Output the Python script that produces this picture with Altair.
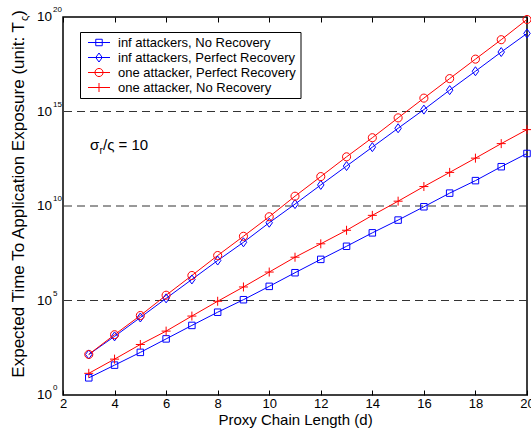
import altair as alt
import pandas as pd

# ---------------- data ----------------
d_values = [3, 4, 5, 6, 7, 8, 9, 10, 11, 12, 13, 14, 15, 16, 17, 18, 19, 20]

inf_no_recovery = [8.1, 38, 1.8e2, 9.3e2, 4.8e3, 2.4e4, 1.1e5, 5.6e5, 2.95e6,
                   1.5e7, 7.4e7, 3.8e8, 1.8e9, 9.1e9, 4.8e10, 2.2e11, 1.2e12, 6.0e12]
inf_perfect_recovery = [1.4e2, 1.26e3, 1.26e4, 1.3e5, 1.3e6, 1.3e7, 1.2e8, 1.3e9, 1.26e10,
                        1.3e11, 1.3e12, 1.3e13, 1.3e14, 1.26e15, 1.35e16, 1.35e17, 1.4e18, 1.35e19]
one_perfect_recovery = [1.4e2, 1.55e3, 1.6e4, 1.9e5, 2.1e6, 2.4e7, 2.5e8, 2.7e9, 3.3e10,
                        3.6e11, 4.0e12, 4.1e13, 4.6e14, 5.1e15, 5.5e16, 5.9e17, 6.3e18, 7.4e19]
one_no_recovery = [14, 79, 4.7e2, 2.4e3, 1.5e4, 9.1e4, 5.2e5, 3.2e6, 1.95e7,
                   1.0e8, 5.2e8, 3.2e9, 1.8e10, 1.07e11, 6.0e11, 3.4e12, 2.0e13, 1.1e14]

series_names = ["inf attackers, No Recovery", "inf attackers, Perfect Recovery",
                "one attacker, Perfect Recovery", "one attacker, No Recovery"]
series_colors = ["#0000ff", "#0000ff", "#ff0000", "#ff0000"]

x_ticks = [2, 4, 6, 8, 10, 12, 14, 16, 18, 20]
y_tick_exponents = [0, 5, 10, 15, 20]
y_grid_values = [1e5, 1e10, 1e15]

x_title = "Proxy Chain Length (d)"
y_title_main = "Expected Time To Application Exposure (unit: T"
y_title_sub = "\u03c2"
y_title_end = ")"

# ---------------- tables ----------------
rows = []
for name, vals in zip(series_names,
                      [inf_no_recovery, inf_perfect_recovery, one_perfect_recovery, one_no_recovery]):
    for d, v in zip(d_values, vals):
        rows.append({"d": d, "value": v, "series": name})
df = pd.DataFrame(rows)

legend_df = pd.DataFrame({"series": series_names, "row": list(range(len(series_names)))})
ylab_df = pd.DataFrame({"v": [10.0 ** e for e in y_tick_exponents],
                        "e": [str(e) for e in y_tick_exponents]})
grid_df = pd.DataFrame({"g": y_grid_values})
one = pd.DataFrame({"k": [0]})

FONT = "Liberation Sans"
SQUARE = "M-0.72,-0.72H0.72V0.72H-0.72Z"
DIAMOND = "M0,-1L0.72,0L0,1L-0.72,0Z"
CIRCLE = "M0.9,0A0.9,0.9,0,1,1,-0.9,0A0.9,0.9,0,1,1,0.9,0Z"
PLUS = "M-1,0H1M0,-1V1"

color_scale = alt.Scale(domain=series_names, range=series_colors)
shape_scale = alt.Scale(domain=series_names, range=[SQUARE, DIAMOND, CIRCLE, PLUS])
x_scale = alt.Scale(domain=[2, 20], nice=False, zero=False)
y_scale = alt.Scale(type="log", domain=[1, 1e20], nice=False)

color_enc = alt.Color("series:N", scale=color_scale, legend=None)
shape_enc = alt.Shape("series:N", scale=shape_scale, legend=None)

# ---------------- grid ----------------
grid = alt.Chart(grid_df).mark_rule(strokeDash=[8, 5], color="#333333", strokeWidth=1).encode(
    y=alt.Y("g:Q", scale=y_scale, axis=None))

# ---------------- data layers ----------------
lines = alt.Chart(df).mark_line(strokeWidth=1).encode(
    x=alt.X("d:Q", scale=x_scale,
            axis=alt.Axis(orient="bottom", values=x_ticks, offset=-5, tickSize=5,
                          domain=False, grid=False, labelPadding=2, labelFlush=False,
                          labelOverlap=False, labelFont=FONT, labelFontSize=13,
                          labelColor="black", tickColor="black", tickWidth=1,
                          format="d", title=x_title, titleFont=FONT, titleFontSize=15,
                          titleFontWeight="normal", titleColor="black", titlePadding=2)),
    y=alt.Y("value:Q", scale=y_scale, axis=None),
    color=color_enc,
    detail="series:N",
)

points = alt.Chart(df).mark_point(filled=False, size=81, strokeWidth=1, opacity=1).encode(
    x=alt.X("d:Q", scale=x_scale,
            axis=alt.Axis(orient="top", values=x_ticks, offset=-5, tickSize=5,
                          labels=False, domain=False, grid=False, tickColor="black",
                          tickWidth=1, title=None)),
    y=alt.Y("value:Q", scale=y_scale, axis=None),
    color=color_enc,
    shape=shape_enc,
)

# ---------------- y tick labels (10 with superscript) ----------------
ylab_base = alt.Chart(ylab_df).mark_text(align="right", baseline="middle", font=FONT,
                                         fontSize=13.5, color="black").encode(
    x=alt.value(-11),
    y=alt.Y("v:Q", scale=y_scale, axis=None),
    text=alt.value("10"),
)
ylab_exp = alt.Chart(ylab_df).mark_text(align="left", baseline="middle", font=FONT,
                                        fontSize=8, color="black", dy=-7).encode(
    x=alt.value(-10),
    y=alt.Y("v:Q", scale=y_scale, axis=None),
    text="e:N",
)

# ---------------- y axis title with subscript ----------------
ytitle_main = alt.Chart(one).mark_text(angle=270, align="right", baseline="alphabetic",
                                       font=FONT, fontSize=17, color="black").encode(
    x=alt.value(-39), y=alt.value(5), text=alt.value(y_title_main))
ytitle_sub = alt.Chart(one).mark_text(angle=270, align="right", baseline="alphabetic",
                                      font=FONT, fontSize=11, color="black", dy=4).encode(
    x=alt.value(-39), y=alt.value(-1.3), text=alt.value(y_title_sub))
ytitle_end = alt.Chart(one).mark_text(angle=270, align="right", baseline="alphabetic",
                                      font=FONT, fontSize=17, color="black").encode(
    x=alt.value(-39), y=alt.value(-7), text=alt.value(y_title_end))

# ---------------- annotation sigma_r / varsigma = 10 ----------------
ann1 = alt.Chart(one).mark_text(align="left", baseline="middle", font=FONT, fontSize=15,
                                color="black").encode(
    x=alt.value(27), y=alt.value(128), text=alt.value("\u03c3"))
ann2 = alt.Chart(one).mark_text(align="left", baseline="middle", font=FONT, fontSize=10,
                                color="black").encode(
    x=alt.value(36.5), y=alt.value(134), text=alt.value("r"))
ann3 = alt.Chart(one).mark_text(align="left", baseline="middle", font=FONT, fontSize=15,
                                color="black").encode(
    x=alt.value(40), y=alt.value(128), text=alt.value("/\u03c2 = 10"))

# ---------------- legend ----------------
legend_box = alt.Chart(one).mark_rect(fill="white", stroke="black", strokeWidth=1).encode(
    x=alt.value(17.5), x2=alt.value(238), y=alt.value(15.5), y2=alt.value(81.5))
leg_base = alt.Chart(legend_df).transform_calculate(ly="25.5 + 15 * datum.row")
leg_lines = leg_base.mark_rule(strokeWidth=1).encode(
    x=alt.value(25), x2=alt.value(47), y=alt.Y("ly:Q", scale=None), color=color_enc)
leg_points = leg_base.mark_point(filled=False, size=81, strokeWidth=1, opacity=1).encode(
    x=alt.value(36), y=alt.Y("ly:Q", scale=None), color=color_enc, shape=shape_enc)
leg_text = leg_base.mark_text(align="left", baseline="middle", font=FONT, fontSize=13,
                              color="black").encode(
    x=alt.value(55), y=alt.Y("ly:Q", scale=None), text="series:N")

chart = alt.layer(
    grid, lines, points, ylab_base, ylab_exp, ytitle_main, ytitle_sub, ytitle_end,
    ann1, ann2, ann3, legend_box, leg_lines, leg_points, leg_text,
).resolve_axis(x="independent").properties(
    width=464, height=378,
    autosize=alt.AutoSizeParams(type="none"),
    padding={"left": 63, "top": 17, "right": 4, "bottom": 33},
    background="white",
).configure_view(stroke="black", strokeWidth=1.5)

chart.save("out.html", embed_options={"renderer": "svg", "actions": False})
